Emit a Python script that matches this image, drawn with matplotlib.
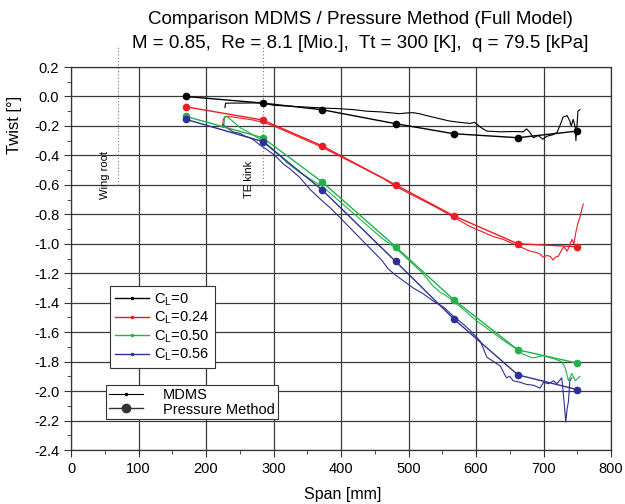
import matplotlib
matplotlib.use("Agg")
import matplotlib.pyplot as plt
from matplotlib.lines import Line2D
from matplotlib.ticker import MultipleLocator, FuncFormatter

plt.rcParams['font.family'] = ['Liberation Sans', 'DejaVu Sans']
plt.rcParams['axes.unicode_minus'] = False
plt.rcParams['mathtext.default'] = 'regular'

# ---------------- data ----------------
press_span = [170, 284, 372, 481, 567, 662, 750]
press_cl0 = [0.00, -0.045, -0.09, -0.185, -0.253, -0.28, -0.235]
press_cl024 = [-0.07, -0.16, -0.335, -0.60, -0.81, -1.00, -1.02]
press_cl050 = [-0.135, -0.28, -0.58, -1.02, -1.38, -1.72, -1.81]
press_cl056 = [-0.155, -0.306, -0.634, -1.12, -1.51, -1.89, -1.99]

mdms_cl0_x = [228, 229, 235, 250, 270, 284, 300, 320, 340, 360, 380, 398, 420, 438, 460, 487, 497, 507,
              517, 527, 545, 561, 575, 591, 598, 607, 616, 636, 655, 670, 675, 680, 685, 692, 699, 705,
              714, 720, 725, 729, 735, 739, 741, 744, 747, 748, 750, 751, 754]
mdms_cl0_y = [-0.076, -0.046, -0.045, -0.045, -0.044, -0.045, -0.06, -0.065, -0.07, -0.075, -0.08, -0.083, -0.09,
              -0.10, -0.105, -0.117, -0.112, -0.11, -0.118, -0.13, -0.15, -0.167, -0.175, -0.183, -0.176, -0.21,
              -0.235, -0.24, -0.238, -0.24, -0.22, -0.245, -0.28, -0.265, -0.29, -0.27, -0.26, -0.245, -0.19,
              -0.14, -0.13, -0.167, -0.20, -0.155, -0.21, -0.30, -0.17, -0.10, -0.09]

mdms_cl024_x = [224, 226, 230, 240, 255, 270, 284, 300, 320, 340, 360, 372, 400, 430, 460, 481, 510, 540,
                567, 590, 610, 625, 640, 650, 660, 670, 680, 690, 695, 699, 705, 710, 714, 718, 722, 727,
                730, 735, 739, 742, 745, 748, 751, 754, 757, 759]
mdms_cl024_y = [-0.21, -0.15, -0.135, -0.14, -0.15, -0.16, -0.175, -0.20, -0.24, -0.28, -0.32, -0.345,
                -0.41, -0.48, -0.55, -0.61, -0.68, -0.75, -0.82, -0.88, -0.92, -0.95, -0.97, -0.99, -1.01,
                -1.03, -1.05, -1.06, -1.07, -1.09, -1.08, -1.085, -1.11, -1.09, -1.085, -1.04, -1.02, -1.05,
                -1.01, -0.97, -1.00, -0.92, -0.86, -0.82, -0.76, -0.73]

mdms_cl050_x = [226, 228, 232, 240, 250, 262, 284, 300, 320, 340, 372, 400, 430, 460, 481, 500, 521, 535,
                547, 555, 567, 585, 600, 615, 630, 645, 662, 670, 684, 699, 715, 727, 732, 737, 742, 747,
                752, 754]
mdms_cl050_y = [-0.21, -0.135, -0.14, -0.17, -0.21, -0.24, -0.30, -0.36, -0.45, -0.52, -0.61, -0.72,
                -0.84, -0.96, -1.03, -1.11, -1.20, -1.28, -1.33, -1.35, -1.39, -1.46, -1.52, -1.57, -1.62,
                -1.67, -1.72, -1.75, -1.775, -1.76, -1.78, -1.80, -1.84, -1.93, -1.88, -1.93, -1.91, -1.90]

mdms_cl056_x = [225, 230, 240, 250, 258, 265, 272, 280, 290, 302, 315, 324, 339, 354, 370, 385, 398, 415,
                430, 445, 460, 470, 480, 492, 507, 522, 537, 552, 566, 581, 594, 606, 610, 616, 626, 636,
                645, 650, 655, 665, 675, 685, 695, 700, 707, 715, 720, 727, 729, 731, 733, 735, 737, 739, 742]
mdms_cl056_y = [-0.19, -0.21, -0.24, -0.25, -0.27, -0.28, -0.30, -0.33, -0.36, -0.40, -0.46, -0.49,
                -0.55, -0.63, -0.70, -0.76, -0.82, -0.90, -0.97, -1.04, -1.11, -1.17, -1.21, -1.25, -1.30,
                -1.34, -1.39, -1.43, -1.49, -1.545, -1.60, -1.66, -1.70, -1.77, -1.80, -1.83, -1.91, -1.90,
                -1.93, -1.94, -1.955, -1.96, -1.98, -1.94, -1.95, -1.93, -1.95, -1.91, -2.00, -2.10, -2.21,
                -2.12, -2.07, -1.93, -1.91]

series_labels = ['0', '0.24', '0.50', '0.56']
series_colors = ['#000000', '#ed1c24', '#21b24b', '#2e3192']
ref_lines_x = [70, 285]
ref_lines_text = ['Wing root', 'TE kink']

# ---------------- figure ----------------
fig = plt.figure(figsize=(6.25, 5.04), dpi=100)
ax = fig.add_axes([71/625, 1-450/504, 540/625, 383/504])

press_all = [press_cl0, press_cl024, press_cl050, press_cl056]
mdms_all = [(mdms_cl0_x, mdms_cl0_y), (mdms_cl024_x, mdms_cl024_y),
            (mdms_cl050_x, mdms_cl050_y), (mdms_cl056_x, mdms_cl056_y)]

for (mx, my), py, c in zip(mdms_all, press_all, series_colors):
    ax.plot(mx, my, color=c, lw=0.8, zorder=3)
    ax.plot(press_span, py, color=c, lw=1.0, marker='o', ms=4.5, zorder=4)

ax.set_xlim(0, 800)
ax.set_ylim(-2.4, 0.2)
ax.xaxis.set_major_locator(MultipleLocator(100))
ax.xaxis.set_minor_locator(MultipleLocator(50))
ax.yaxis.set_major_locator(MultipleLocator(0.2))
ax.yaxis.set_minor_locator(MultipleLocator(0.1))


def yfmt(v, pos):
    s = '%.1f' % v
    return '0.0' if s in ('-0.0', '0.0') else s


ax.yaxis.set_major_formatter(FuncFormatter(yfmt))
ax.grid(True, which='major', color='#3a3a3a', lw=0.9)
ax.set_axisbelow(True)
ax.tick_params(which='major', direction='out', length=5, labelsize=10.5, color='#333333')
ax.tick_params(which='minor', direction='out', length=3, color='#333333')
for s in ax.spines.values():
    s.set_color('#333333')
    s.set_linewidth(0.9)

# reference dotted lines
for xv in ref_lines_x:
    ax.plot([xv, xv], [-0.6, 0.35], ls=(0, (1, 2)), color='#777777', lw=0.8, clip_on=False, zorder=2)
ax.text(50, -0.53, ref_lines_text[0], rotation=90, ha='center', va='center', fontsize=8)
ax.text(264, -0.566, ref_lines_text[1], rotation=90, ha='center', va='center', fontsize=8)

# legends
h1 = [Line2D([], [], color=c, lw=1.0, marker='.', ms=3) for c in series_colors]
l1 = [r'C$_L$=' + s for s in series_labels]
leg1 = ax.legend(h1, l1, loc='upper left', bbox_to_anchor=(0.072, 0.428), borderaxespad=0,
                 fancybox=False, edgecolor='#333333', framealpha=1, fontsize=10.5,
                 handlelength=2.3, handletextpad=0.4, labelspacing=0.15, borderpad=0.35)
leg1.get_frame().set_linewidth(0.8)
ax.add_artist(leg1)

h2 = [Line2D([], [], color='#000000', lw=0.8, marker='.', ms=3),
      Line2D([], [], color='#333333', lw=1.0, marker='o', ms=6)]
leg2 = ax.legend(h2, ['MDMS', 'Pressure Method'], loc='upper left', bbox_to_anchor=(0.065, 0.170),
                 borderaxespad=0, fancybox=False, edgecolor='#333333', framealpha=1, fontsize=10.5,
                 handlelength=2.3, handletextpad=1.4, labelspacing=0.05, borderpad=0.2)
leg2.get_frame().set_linewidth(0.8)

# titles and labels
fig.text(0.576, 1-20/504, 'Comparison MDMS / Pressure Method (Full Model)', ha='center', va='center', fontsize=13.5)
fig.text(0.576, 1-43/504, 'M = 0.85,  Re = 8.1 [Mio.],  Tt = 300 [K],  q = 79.5 [kPa]', ha='center', va='center', fontsize=13.5)
fig.text(0.024, 1-125/504, 'Twist [°]', rotation=90, ha='center', va='center', fontsize=12)
fig.text(343/625, 1-494/504, 'Span [mm]', ha='center', va='center', fontsize=11.5)

fig.savefig('out.png', dpi=100)
